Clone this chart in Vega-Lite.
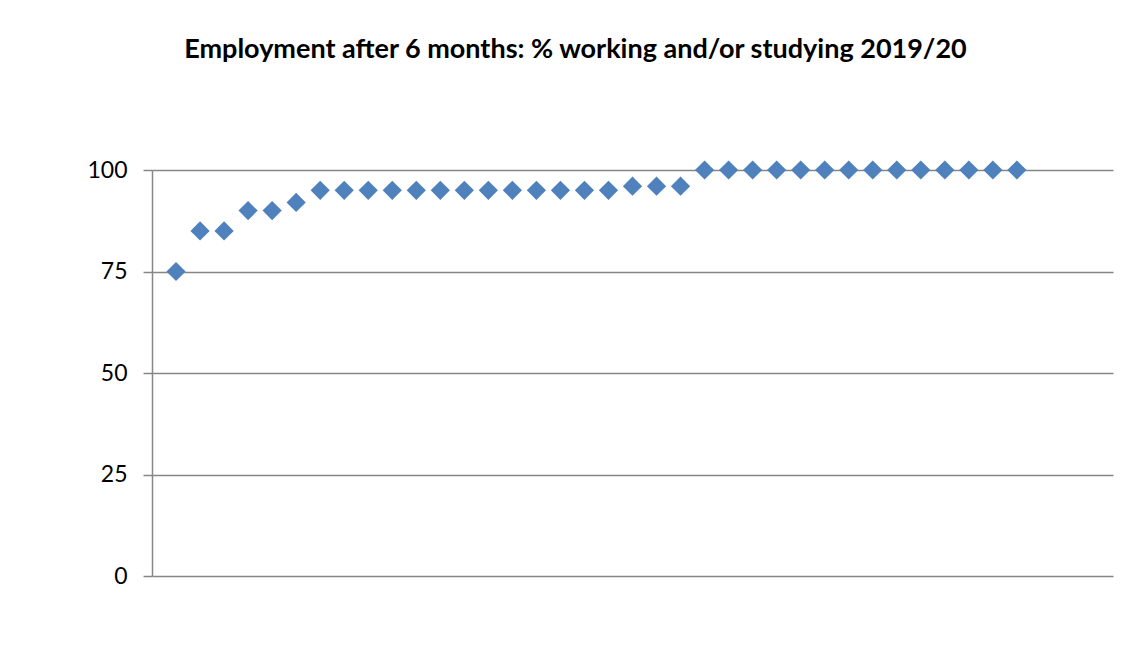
{
  "$schema": "https://vega.github.io/schema/vega-lite/v6.json",
  "autosize": "none",
  "width": 961,
  "height": 406,
  "padding": {"left": 152, "top": 170, "right": 25, "bottom": 76},
  "background": "white",
  "title": {
    "text": "Employment after 6 months: % working and/or studying 2019/20",
    "font": "Lato",
    "fontSize": 27,
    "fontWeight": "bold",
    "color": "#000000",
    "anchor": "middle",
    "frame": "group",
    "dx": -57,
    "offset": 95
  },
  "data": {
    "values": [
      {"n": 1, "pct": 75}, {"n": 2, "pct": 85}, {"n": 3, "pct": 85}, {"n": 4, "pct": 90},
      {"n": 5, "pct": 90}, {"n": 6, "pct": 92}, {"n": 7, "pct": 95}, {"n": 8, "pct": 95},
      {"n": 9, "pct": 95}, {"n": 10, "pct": 95}, {"n": 11, "pct": 95}, {"n": 12, "pct": 95},
      {"n": 13, "pct": 95}, {"n": 14, "pct": 95}, {"n": 15, "pct": 95}, {"n": 16, "pct": 95},
      {"n": 17, "pct": 95}, {"n": 18, "pct": 95}, {"n": 19, "pct": 95}, {"n": 20, "pct": 96},
      {"n": 21, "pct": 96}, {"n": 22, "pct": 96}, {"n": 23, "pct": 100}, {"n": 24, "pct": 100},
      {"n": 25, "pct": 100}, {"n": 26, "pct": 100}, {"n": 27, "pct": 100}, {"n": 28, "pct": 100},
      {"n": 29, "pct": 100}, {"n": 30, "pct": 100}, {"n": 31, "pct": 100}, {"n": 32, "pct": 100},
      {"n": 33, "pct": 100}, {"n": 34, "pct": 100}, {"n": 35, "pct": 100}, {"n": 36, "pct": 100}
    ]
  },
  "mark": {"type": "point", "shape": "diamond", "filled": true, "size": 370, "color": "#4F81BD", "opacity": 1},
  "encoding": {
    "x": {
      "field": "n",
      "type": "quantitative",
      "scale": {"domain": [0, 40], "nice": false, "zero": true},
      "axis": null
    },
    "y": {
      "field": "pct",
      "type": "quantitative",
      "scale": {"domain": [0, 100], "nice": false},
      "axis": {
        "title": null,
        "values": [0, 25, 50, 75, 100],
        "grid": true,
        "gridColor": "#868686",
        "gridWidth": 1.5,
        "gridOpacity": 1,
        "domain": true,
        "domainColor": "#868686",
        "domainWidth": 1.5,
        "ticks": true,
        "tickSize": 9,
        "tickColor": "#868686",
        "tickWidth": 1.5,
        "labelFont": "Lato",
        "labelFontSize": 23,
        "labelColor": "#000000",
        "labelPadding": 16
      }
    }
  },
  "config": {"view": {"stroke": null}}
}
